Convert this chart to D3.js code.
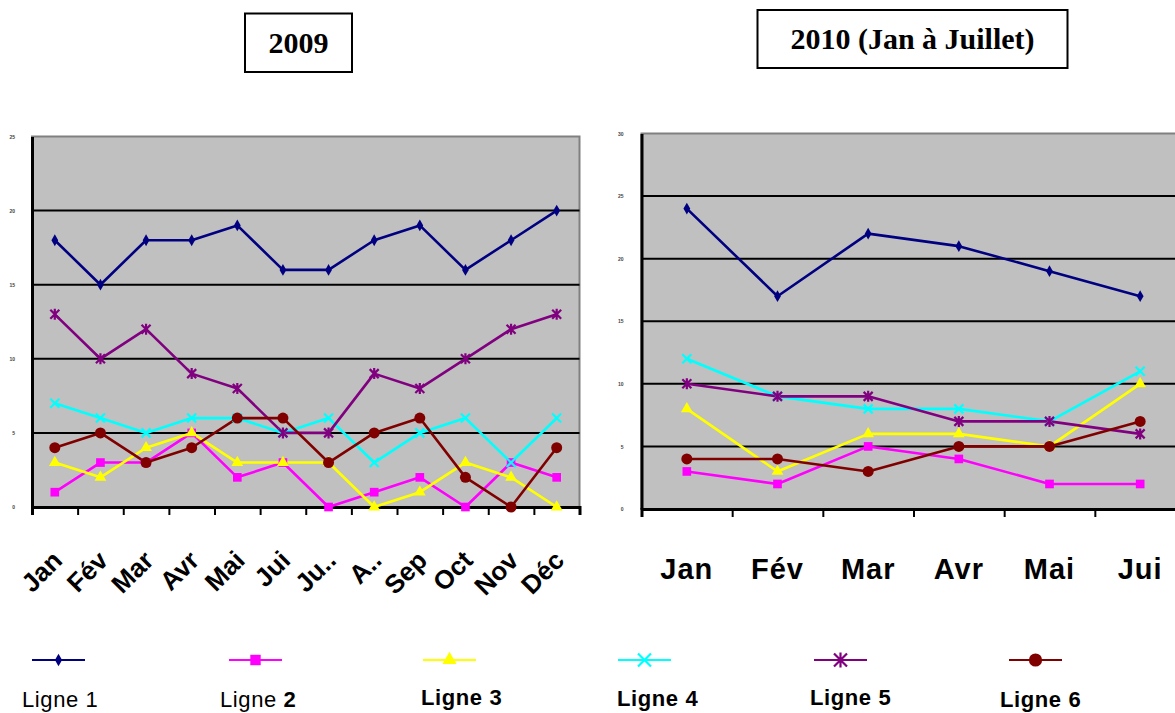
<!DOCTYPE html>
<html>
<head>
<meta charset="utf-8">
<script src="https://cdn.jsdelivr.net/npm/d3@7"></script>
<style>
  body { margin: 0; background: #fff; }
  svg { display: block; }
</style>
</head>
<body>
<div id="chart"></div>
<script>
// 2009 data
const months2009 = ['Jan', 'Fév', 'Mar', 'Avr', 'Mai', 'Jui', 'Ju..', 'A..', 'Sep', 'Oct', 'Nov', 'Déc'];
const ligne1_2009 = [18, 15, 18, 18, 19, 16, 16, 18, 19, 16, 18, 20];
const ligne2_2009 = [1, 3, 3, 5, 2, 3, 0, 1, 2, 0, 3, 2];
const ligne3_2009 = [3, 2, 4, 5, 3, 3, 3, 0, 1, 3, 2, 0];
const ligne4_2009 = [7, 6, 5, 6, 6, 5, 6, 3, 5, 6, 3, 6];
const ligne5_2009 = [13, 10, 12, 9, 8, 5, 5, 9, 8, 10, 12, 13];
const ligne6_2009 = [4, 5, 3, 4, 6, 6, 3, 5, 6, 2, 0, 4];
const ticks2009 = [0, 5, 10, 15, 20, 25];

// 2010 data (Jan à Juillet)
const months2010 = ['Jan', 'Fév', 'Mar', 'Avr', 'Mai', 'Jui'];
const ligne1_2010 = [24, 17, 22, 21, 19, 17];
const ligne2_2010 = [3, 2, 5, 4, 2, 2];
const ligne3_2010 = [8, 3, 6, 6, 5, 10];
const ligne4_2010 = [12, 9, 8, 8, 7, 11];
const ligne5_2010 = [10, 9, 9, 7, 7, 6];
const ligne6_2010 = [4, 4, 3, 5, 5, 7];
const ticks2010 = [0, 5, 10, 15, 20, 25, 30];

const seriesNames = ['Ligne 1', 'Ligne 2', 'Ligne 3', 'Ligne 4', 'Ligne 5', 'Ligne 6'];
const colors = ['#000080', '#ff00ff', '#ffff00', '#00ffff', '#800080', '#800000'];
const markers = ['diamond', 'square', 'triangle', 'x', 'star', 'circle'];

const svg = d3.select('#chart').append('svg')
  .attr('width', 1175)
  .attr('height', 713);

// draw a marker of a given kind, centred on 0,0
const drawMarker = (g, kind, color, s) => {
  if (kind === 'x' || kind === 'star') {
    const h = s / 2;
    let p = `M${-h},${-h}L${h},${h}M${-h},${h}L${h},${-h}`;
    if (kind === 'star') p += `M0,${-h - 1}L0,${h + 1}`;
    g.append('path').attr('d', p).attr('stroke', color).attr('stroke-width', 2.2).attr('fill', 'none');
    return;
  }
  const type = {
    diamond: d3.symbolDiamond,
    square: d3.symbolSquare,
    triangle: d3.symbolTriangle,
    circle: d3.symbolCircle,
  }[kind];
  const size = { diamond: 40, square: 75, triangle: 60, circle: 95 }[kind] * (s / 9);
  g.append('path').attr('d', d3.symbol().type(type).size(size)()).attr('fill', color);
};

const drawChart = (opts) => {
  const { x0, x1, y0, y1, cats, series, yTicks, yMax, rotate, labelX } = opts;

  const x = d3.scaleBand().domain(cats).range([x0, x1]).padding(0);
  const xEdges = d3.scaleLinear().domain([0, cats.length]).range([x0, x1]);
  const y = d3.scaleLinear().domain([0, yMax]).range([y0, y1]);

  const g = svg.append('g');

  g.append('rect')
    .attr('x', x0).attr('y', y1)
    .attr('width', x1 - x0).attr('height', y0 - y1)
    .attr('fill', '#c0c0c0')
    .attr('stroke', '#808080')
    .attr('stroke-width', 2);

  // grid
  g.selectAll('.grid')
    .data(yTicks.filter(d => d > 0 && d < yMax))
    .enter().append('line')
    .attr('x1', x0).attr('x2', x1)
    .attr('y1', d => y(d)).attr('y2', d => y(d))
    .attr('stroke', '#000')
    .attr('stroke-width', 2);

  // y axis
  const yAxis = g.append('g')
    .attr('transform', `translate(${x0},0)`)
    .call(d3.axisLeft(y).tickValues(yTicks).tickSize(0).tickPadding(labelX));
  yAxis.select('.domain').attr('stroke', '#000').attr('stroke-width', 3);
  yAxis.selectAll('text')
    .attr('font-family', 'Arial, "Liberation Sans", sans-serif')
    .attr('font-size', 5)
    .attr('font-weight', 'bold')
    .attr('fill', '#444');

  // x axis: ticks between categories
  const xAxis = g.append('g')
    .attr('transform', `translate(0,${y0})`)
    .call(d3.axisBottom(xEdges).tickValues(d3.range(cats.length + 1)).tickSize(8).tickFormat(''));
  xAxis.select('.domain').attr('stroke', '#000').attr('stroke-width', 3);
  xAxis.selectAll('.tick line').attr('stroke', '#000').attr('stroke-width', 2);

  // category labels
  const lab = g.selectAll('.cat')
    .data(cats)
    .enter().append('text')
    .attr('font-family', 'Arial, "Liberation Sans", sans-serif')
    .attr('font-weight', 'bold')
    .attr('fill', '#000')
    .text(d => d);

  if (rotate) {
    lab.attr('font-size', 26)
      .attr('text-anchor', 'end')
      .attr('transform', d => `translate(${x(d) + x.bandwidth() / 2 + 9},${y0 + 55}) rotate(-45)`);
  } else {
    lab.attr('font-size', 29)
      .attr('letter-spacing', 1)
      .attr('text-anchor', 'middle')
      .attr('x', d => x(d) + x.bandwidth() / 2)
      .attr('y', y0 + 70);
  }

  // series
  const line = d3.line()
    .x((d, i) => x(cats[i]) + x.bandwidth() / 2)
    .y(d => y(d));

  series.forEach((vals, k) => {
    g.append('path')
      .datum(vals)
      .attr('d', line)
      .attr('fill', 'none')
      .attr('stroke', colors[k])
      .attr('stroke-width', 2.6)
      .attr('stroke-linejoin', 'round');
  });
  series.forEach((vals, k) => {
    vals.forEach((v, i) => {
      const m = g.append('g')
        .attr('transform', `translate(${x(cats[i]) + x.bandwidth() / 2},${y(v)})`);
      drawMarker(m, markers[k], colors[k], 9);
    });
  });
};

drawChart({
  x0: 32, x1: 579.5, y0: 507, y1: 136.5,
  cats: months2009,
  series: [ligne1_2009, ligne2_2009, ligne3_2009, ligne4_2009, ligne5_2009, ligne6_2009],
  yTicks: ticks2009, yMax: 25, rotate: true, labelX: 17,
});

drawChart({
  x0: 641.5, x1: 1185.5, y0: 509, y1: 133.5,
  cats: months2010,
  series: [ligne1_2010, ligne2_2010, ligne3_2010, ligne4_2010, ligne5_2010, ligne6_2010],
  yTicks: ticks2010, yMax: 30, rotate: false, labelX: 18,
});

// title boxes
const titles = [
  { text: '2009', x: 245, y: 13.5, w: 107, h: 58.5 },
  { text: '2010 (Jan à Juillet)', x: 757.5, y: 10, w: 310, h: 58 },
];
titles.forEach(t => {
  svg.append('rect')
    .attr('x', t.x).attr('y', t.y).attr('width', t.w).attr('height', t.h)
    .attr('fill', '#fff').attr('stroke', '#000').attr('stroke-width', 2);
  svg.append('text')
    .attr('x', t.x + t.w / 2).attr('y', t.y + t.h / 2 + 10)
    .attr('text-anchor', 'middle')
    .attr('font-family', '"Liberation Serif", "Times New Roman", serif')
    .attr('font-weight', 'bold')
    .attr('font-size', 30)
    .text(t.text);
});

// legend
const legendLineX = [32, 229, 423, 618, 814, 1009];
const legendTextX = [22, 220, 421, 617, 810, 1000];
const legendTextY = [707, 707, 705, 706, 705, 707];
const legendWeight = ['normal', 'mixed', 'bold', 'bold', 'bold', 'bold'];

seriesNames.forEach((name, k) => {
  const lg = svg.append('g');
  lg.append('line')
    .attr('x1', legendLineX[k]).attr('x2', legendLineX[k] + 53)
    .attr('y1', 660).attr('y2', 660)
    .attr('stroke', colors[k]).attr('stroke-width', 2);
  const m = lg.append('g').attr('transform', `translate(${legendLineX[k] + 26.5},660)`);
  drawMarker(m, markers[k], colors[k], k === 0 ? 10 : 13);

  const t = lg.append('text')
    .attr('x', legendTextX[k]).attr('y', legendTextY[k])
    .attr('font-family', 'Arial, "Liberation Sans", sans-serif')
    .attr('font-size', 22)
    .attr('letter-spacing', 0.6)
    .attr('fill', '#000');
  if (legendWeight[k] === 'mixed') {
    t.append('tspan').text('Ligne ');
    t.append('tspan').attr('font-weight', 'bold').text(name.split(' ')[1]);
  } else {
    t.attr('font-weight', legendWeight[k]).text(name);
  }
});
</script>
</body>
</html>
